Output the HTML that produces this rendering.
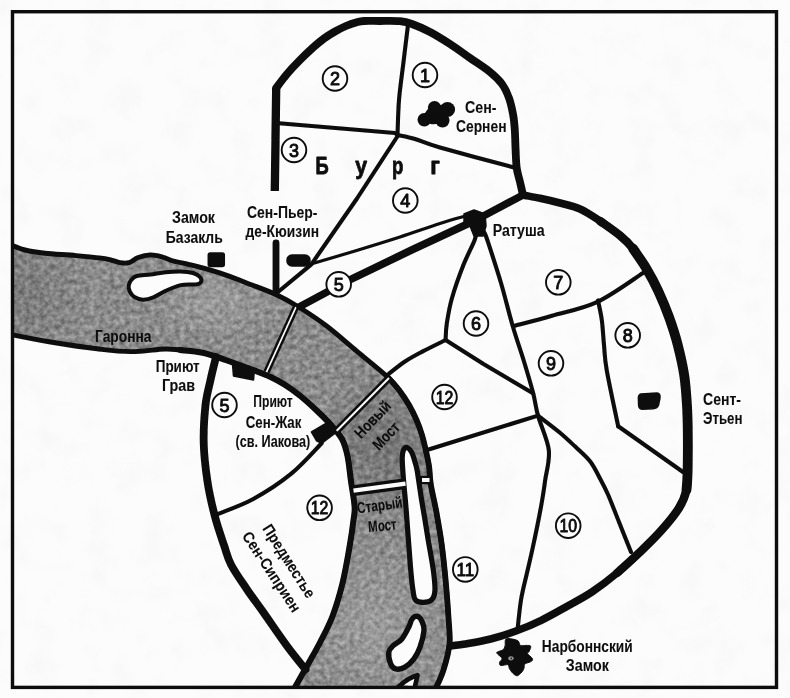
<!DOCTYPE html>
<html lang="ru">
<head>
<meta charset="utf-8">
<title>Тулуза — план города</title>
<style>
html,body{margin:0;padding:0;background:#fcfcfc;}
body{width:790px;height:698px;overflow:hidden;font-family:"Liberation Sans",sans-serif;}
svg{display:block;}
text{font-family:"Liberation Sans",sans-serif;fill:#0b0b0b;}
.lbl{font-size:15.6px;font-weight:bold;stroke:#0b0b0b;stroke-width:0.05px;stroke-linejoin:round;}
.num{font-size:18px;text-anchor:middle;stroke:#0b0b0b;stroke-width:0.9px;stroke-linejoin:round;}
.big{font-size:23.5px;font-weight:bold;stroke:#0b0b0b;stroke-width:0.8px;stroke-linejoin:round;}
.thin{fill:none;stroke:#0b0b0b;stroke-width:4.1;stroke-linecap:round;stroke-linejoin:round;}
.bank{fill:none;stroke:#0b0b0b;stroke-width:4.9;stroke-linecap:round;stroke-linejoin:round;}
.isl{fill:#fcfcfc;stroke:#0b0b0b;stroke-width:4;stroke-linejoin:round;}
.wall{fill:none;stroke:#0b0b0b;stroke-width:6.6;stroke-linecap:round;stroke-linejoin:round;}
.circ{fill:#fcfcfc;stroke:#0b0b0b;stroke-width:1.9;}
.blk{fill:#0b0b0b;stroke:#0b0b0b;stroke-width:1.5;stroke-linejoin:round;}
</style>
</head>
<body>
<svg width="790" height="698" viewBox="0 0 790 698">
<defs>
  <filter id="mottle" x="0" y="0" width="100%" height="100%" color-interpolation-filters="sRGB">
    <feTurbulence type="fractalNoise" baseFrequency="0.2" numOctaves="2" seed="11" result="n"/>
    <feColorMatrix in="n" type="matrix" values="0.42 0 0 0 0.335  0.42 0 0 0 0.335  0.42 0 0 0 0.335  0 0 0 0 1" result="g"/>
    <feComposite in="g" in2="SourceGraphic" operator="in"/>
  </filter>
  <filter id="paper" x="0" y="0" width="100%" height="100%">
    <feTurbulence type="fractalNoise" baseFrequency="0.035" numOctaves="3" seed="4" result="n"/>
    <feColorMatrix in="n" type="matrix" values="0 0 0 0 0.8  0 0 0 0 0.8  0 0 0 0 0.8  1.3 0 0 0 -0.62"/>
  </filter>
  <radialGradient id="gdark"><stop offset="0" stop-color="#000" stop-opacity="0.16"/><stop offset="1" stop-color="#000" stop-opacity="0"/></radialGradient>
  <radialGradient id="gdark2"><stop offset="0" stop-color="#000" stop-opacity="0.12"/><stop offset="1" stop-color="#000" stop-opacity="0"/></radialGradient>
  <radialGradient id="glight"><stop offset="0" stop-color="#fff" stop-opacity="0.14"/><stop offset="1" stop-color="#fff" stop-opacity="0"/></radialGradient>
  <filter id="soft"><feGaussianBlur stdDeviation="0.5"/></filter>
  <clipPath id="frameclip"><rect x="12.5" y="11.7" width="764" height="675.3"/></clipPath>
</defs>
<rect x="0" y="0" width="790" height="698" fill="#fcfcfc"/>
<rect x="0" y="0" width="790" height="698" fill="#fcfcfc" filter="url(#paper)" opacity="0.35"/>
<g filter="url(#soft)">
<g clip-path="url(#frameclip)">

<g id="river">
<path filter="url(#mottle)" fill="#8d8d8d" d="M11.0,245.0 C13.3,245.8 19.3,248.6 25.0,250.0 C30.7,251.4 36.5,252.3 45.0,253.2 C53.5,254.1 66.0,254.7 76.0,255.6 C86.0,256.5 97.7,257.4 105.0,258.6 C112.3,259.8 116.0,261.9 120.0,262.6 C124.0,263.3 126.0,263.5 129.0,262.6 C132.0,261.8 134.6,258.8 138.2,257.5 C141.8,256.2 146.3,255.0 150.4,254.9 C154.5,254.8 158.7,256.0 162.5,257.0 C166.3,258.0 168.9,259.8 173.2,261.0 C177.5,262.2 183.3,263.1 188.4,264.3 C193.5,265.5 198.5,266.7 203.6,268.1 C208.7,269.5 212.7,270.7 218.8,272.7 C224.9,274.7 234.5,278.2 240.0,280.3 C245.5,282.4 245.8,282.6 252.0,285.0 C258.2,287.4 269.2,291.3 277.0,295.0 C284.8,298.7 290.4,301.8 298.7,307.0 C307.0,312.2 316.9,318.6 326.6,326.0 C336.3,333.4 346.9,342.9 357.0,351.3 C367.1,359.7 380.3,370.2 387.3,376.6 C394.3,383.1 395.4,385.3 399.0,390.0 C402.6,394.7 406.1,400.0 409.0,405.0 C411.9,410.0 414.3,415.0 416.5,420.0 C418.7,425.0 420.5,430.2 422.0,435.0 C423.5,439.8 424.3,443.8 425.5,449.0 C426.7,454.2 428.1,460.1 429.0,466.0 C429.9,471.9 429.6,476.8 430.8,484.4 C432.0,492.0 434.5,501.6 436.3,511.6 C438.1,521.6 440.1,532.5 441.7,544.3 C443.3,556.1 444.7,570.1 445.8,582.4 C446.9,594.6 447.9,607.5 448.5,617.8 C449.1,628.1 450.3,635.3 449.5,644.0 C448.7,652.7 445.8,662.5 443.5,670.0 C441.2,677.5 436.8,685.8 435.5,689.0 L294.0,689.0  C296.3,684.9 303.6,672.2 308.0,664.3 C312.4,656.4 316.4,649.5 320.5,641.5 C324.6,633.5 328.8,625.9 332.5,616.2 C336.2,606.5 339.6,595.1 342.5,583.3 C345.4,571.5 348.0,555.8 349.8,545.3 C351.6,534.8 352.7,526.5 353.5,520.0 C354.3,513.5 355.0,513.1 354.6,506.6 C354.2,500.2 352.2,489.7 351.0,481.3 C349.8,472.9 349.0,463.1 347.5,456.0 C346.0,448.9 344.8,444.2 342.0,439.0 C339.2,433.8 335.2,429.6 330.8,424.7 C326.4,419.8 320.7,414.3 315.6,409.5 C310.5,404.7 305.5,400.1 300.4,396.0 C295.3,391.9 290.1,388.1 285.2,385.0 C280.3,381.9 277.2,380.1 271.1,377.3 C265.0,374.5 256.0,371.2 248.4,368.3 C240.8,365.4 233.2,362.6 225.6,360.0 C218.0,357.4 210.4,354.5 202.8,352.8 C195.2,351.1 186.4,350.6 180.0,350.0 C173.6,349.4 172.6,348.7 164.5,349.0 C156.4,349.3 142.2,351.6 131.6,351.6 C121.0,351.7 114.5,350.9 101.0,349.3 C87.5,347.7 65.6,344.5 50.6,342.0 C35.6,339.5 17.6,335.8 11.0,334.5 Z"/>
<clipPath id="rclip"><path d="M11.0,245.0 C13.3,245.8 19.3,248.6 25.0,250.0 C30.7,251.4 36.5,252.3 45.0,253.2 C53.5,254.1 66.0,254.7 76.0,255.6 C86.0,256.5 97.7,257.4 105.0,258.6 C112.3,259.8 116.0,261.9 120.0,262.6 C124.0,263.3 126.0,263.5 129.0,262.6 C132.0,261.8 134.6,258.8 138.2,257.5 C141.8,256.2 146.3,255.0 150.4,254.9 C154.5,254.8 158.7,256.0 162.5,257.0 C166.3,258.0 168.9,259.8 173.2,261.0 C177.5,262.2 183.3,263.1 188.4,264.3 C193.5,265.5 198.5,266.7 203.6,268.1 C208.7,269.5 212.7,270.7 218.8,272.7 C224.9,274.7 234.5,278.2 240.0,280.3 C245.5,282.4 245.8,282.6 252.0,285.0 C258.2,287.4 269.2,291.3 277.0,295.0 C284.8,298.7 290.4,301.8 298.7,307.0 C307.0,312.2 316.9,318.6 326.6,326.0 C336.3,333.4 346.9,342.9 357.0,351.3 C367.1,359.7 380.3,370.2 387.3,376.6 C394.3,383.1 395.4,385.3 399.0,390.0 C402.6,394.7 406.1,400.0 409.0,405.0 C411.9,410.0 414.3,415.0 416.5,420.0 C418.7,425.0 420.5,430.2 422.0,435.0 C423.5,439.8 424.3,443.8 425.5,449.0 C426.7,454.2 428.1,460.1 429.0,466.0 C429.9,471.9 429.6,476.8 430.8,484.4 C432.0,492.0 434.5,501.6 436.3,511.6 C438.1,521.6 440.1,532.5 441.7,544.3 C443.3,556.1 444.7,570.1 445.8,582.4 C446.9,594.6 447.9,607.5 448.5,617.8 C449.1,628.1 450.3,635.3 449.5,644.0 C448.7,652.7 445.8,662.5 443.5,670.0 C441.2,677.5 436.8,685.8 435.5,689.0 L294.0,689.0  C296.3,684.9 303.6,672.2 308.0,664.3 C312.4,656.4 316.4,649.5 320.5,641.5 C324.6,633.5 328.8,625.9 332.5,616.2 C336.2,606.5 339.6,595.1 342.5,583.3 C345.4,571.5 348.0,555.8 349.8,545.3 C351.6,534.8 352.7,526.5 353.5,520.0 C354.3,513.5 355.0,513.1 354.6,506.6 C354.2,500.2 352.2,489.7 351.0,481.3 C349.8,472.9 349.0,463.1 347.5,456.0 C346.0,448.9 344.8,444.2 342.0,439.0 C339.2,433.8 335.2,429.6 330.8,424.7 C326.4,419.8 320.7,414.3 315.6,409.5 C310.5,404.7 305.5,400.1 300.4,396.0 C295.3,391.9 290.1,388.1 285.2,385.0 C280.3,381.9 277.2,380.1 271.1,377.3 C265.0,374.5 256.0,371.2 248.4,368.3 C240.8,365.4 233.2,362.6 225.6,360.0 C218.0,357.4 210.4,354.5 202.8,352.8 C195.2,351.1 186.4,350.6 180.0,350.0 C173.6,349.4 172.6,348.7 164.5,349.0 C156.4,349.3 142.2,351.6 131.6,351.6 C121.0,351.7 114.5,350.9 101.0,349.3 C87.5,347.7 65.6,344.5 50.6,342.0 C35.6,339.5 17.6,335.8 11.0,334.5 Z"/></clipPath>
<g clip-path="url(#rclip)"><ellipse cx="385" cy="445" rx="75" ry="85" fill="url(#gdark)"/><ellipse cx="20" cy="295" rx="70" ry="80" fill="url(#gdark2)"/><ellipse cx="375" cy="625" rx="85" ry="90" fill="url(#glight)"/><ellipse cx="215" cy="300" rx="70" ry="45" fill="url(#glight)"/></g>
<path class="bank" d="M11.0,245.0 C13.3,245.8 19.3,248.6 25.0,250.0 C30.7,251.4 36.5,252.3 45.0,253.2 C53.5,254.1 66.0,254.7 76.0,255.6 C86.0,256.5 97.7,257.4 105.0,258.6 C112.3,259.8 116.0,261.9 120.0,262.6 C124.0,263.3 126.0,263.5 129.0,262.6 C132.0,261.8 134.6,258.8 138.2,257.5 C141.8,256.2 146.3,255.0 150.4,254.9 C154.5,254.8 158.7,256.0 162.5,257.0 C166.3,258.0 168.9,259.8 173.2,261.0 C177.5,262.2 183.3,263.1 188.4,264.3 C193.5,265.5 198.5,266.7 203.6,268.1 C208.7,269.5 212.7,270.7 218.8,272.7 C224.9,274.7 234.5,278.2 240.0,280.3 C245.5,282.4 245.8,282.6 252.0,285.0 C258.2,287.4 269.2,291.3 277.0,295.0 C284.8,298.7 290.4,301.8 298.7,307.0 C307.0,312.2 316.9,318.6 326.6,326.0 C336.3,333.4 346.9,342.9 357.0,351.3 C367.1,359.7 380.3,370.2 387.3,376.6 C394.3,383.1 395.4,385.3 399.0,390.0 C402.6,394.7 406.1,400.0 409.0,405.0 C411.9,410.0 414.3,415.0 416.5,420.0 C418.7,425.0 420.5,430.2 422.0,435.0 C423.5,439.8 424.3,443.8 425.5,449.0 C426.7,454.2 428.1,460.1 429.0,466.0 C429.9,471.9 429.6,476.8 430.8,484.4 C432.0,492.0 434.5,501.6 436.3,511.6 C438.1,521.6 440.1,532.5 441.7,544.3 C443.3,556.1 444.7,570.1 445.8,582.4 C446.9,594.6 447.9,607.5 448.5,617.8 C449.1,628.1 450.3,635.3 449.5,644.0 C448.7,652.7 445.8,662.5 443.5,670.0 C441.2,677.5 436.8,685.8 435.5,689.0"/>
<path class="bank" d="M11.0,334.5 C17.6,335.8 35.6,339.5 50.6,342.0 C65.6,344.5 87.5,347.7 101.0,349.3 C114.5,350.9 121.0,351.7 131.6,351.6 C142.2,351.6 156.4,349.3 164.5,349.0 C172.6,348.7 173.6,349.4 180.0,350.0 C186.4,350.6 195.2,351.1 202.8,352.8 C210.4,354.5 218.0,357.4 225.6,360.0 C233.2,362.6 240.8,365.4 248.4,368.3 C256.0,371.2 265.0,374.5 271.1,377.3 C277.2,380.1 280.3,381.9 285.2,385.0 C290.1,388.1 295.3,391.9 300.4,396.0 C305.5,400.1 310.5,404.7 315.6,409.5 C320.7,414.3 326.4,419.8 330.8,424.7 C335.2,429.6 339.2,433.8 342.0,439.0 C344.8,444.2 346.0,448.9 347.5,456.0 C349.0,463.1 349.8,472.9 351.0,481.3 C352.2,489.7 354.2,500.2 354.6,506.6 C355.0,513.1 354.3,513.5 353.5,520.0 C352.7,526.5 351.6,534.8 349.8,545.3 C348.0,555.8 345.4,571.5 342.5,583.3 C339.6,595.1 336.2,606.5 332.5,616.2 C328.8,625.9 324.6,633.5 320.5,641.5 C316.4,649.5 312.4,656.4 308.0,664.3 C303.6,672.2 296.3,684.9 294.0,689.0"/>
<path class="bank" style="stroke-width:5.8" d="M387.3,376.6 C389.2,378.8 395.4,385.3 399.0,390.0 C402.6,394.7 406.1,400.0 409.0,405.0 C411.9,410.0 414.3,415.0 416.5,420.0 C418.7,425.0 420.5,430.2 422.0,435.0 C423.5,439.8 424.3,443.8 425.5,449.0 C426.7,454.2 428.1,460.1 429.0,466.0 C429.9,471.9 429.6,476.8 430.8,484.4 C432.0,492.0 434.5,501.6 436.3,511.6 C438.1,521.6 440.1,532.5 441.7,544.3 C443.3,556.1 444.7,570.1 445.8,582.4 C446.9,594.6 447.9,607.5 448.5,617.8 C449.1,628.1 450.3,635.3 449.5,644.0 C448.7,652.7 445.8,662.5 443.5,670.0 C441.2,677.5 436.8,685.8 435.5,689.0"/>
<path class="bank" style="stroke-width:6" d="M180.0,350.0 C183.8,350.5 195.2,351.1 202.8,352.8 C210.4,354.5 218.0,357.4 225.6,360.0 C233.2,362.6 240.8,365.4 248.4,368.3 C256.0,371.2 265.0,374.5 271.1,377.3 C277.2,380.1 280.3,381.9 285.2,385.0 C290.1,388.1 295.3,391.9 300.4,396.0 C305.5,400.1 310.5,404.7 315.6,409.5 C320.7,414.3 326.4,419.8 330.8,424.7 C335.2,429.6 339.2,433.8 342.0,439.0 C344.8,444.2 346.0,448.9 347.5,456.0 C349.0,463.1 349.8,472.9 351.0,481.3 C352.2,489.7 354.2,500.2 354.6,506.6 C355.0,513.1 354.3,513.5 353.5,520.0 C352.7,526.5 351.6,534.8 349.8,545.3 C348.0,555.8 345.4,571.5 342.5,583.3 C339.6,595.1 336.2,606.5 332.5,616.2 C328.8,625.9 324.6,633.5 320.5,641.5 C316.4,649.5 312.4,656.4 308.0,664.3 C303.6,672.2 296.3,684.9 294.0,689.0"/>
<path class="isl" d="M128.7,285.6 C128.9,283.6 130.1,281.4 131.4,279.8 C132.7,278.2 133.5,276.9 136.7,276.0 C139.9,275.1 145.6,275.1 150.4,274.5 C155.2,273.9 160.5,272.7 165.6,272.2 C170.7,271.7 176.2,271.4 180.8,271.5 C185.4,271.6 189.8,272.1 193.0,273.0 C196.2,273.9 198.9,275.7 200.2,277.2 C201.5,278.7 201.6,281.0 200.9,282.2 C200.2,283.4 199.3,283.9 196.0,284.4 C192.7,284.9 185.9,284.0 180.8,285.1 C175.7,286.2 170.2,288.8 165.6,290.9 C161.0,292.9 157.2,295.9 153.4,297.4 C149.6,298.9 146.0,299.8 142.8,299.7 C139.6,299.6 136.6,298.3 134.4,297.0 C132.2,295.7 130.9,293.6 129.9,291.7 C128.9,289.8 128.4,287.6 128.7,285.6 Z"/>
<path class="isl" style="stroke-width:5.2" d="M406.5,447.3 C407.9,447.6 410.1,449.6 411.5,452.0 C412.9,454.4 414.1,458.9 415.0,462.0 C415.9,465.1 416.1,464.8 417.2,470.8 C418.2,476.8 420.0,489.8 421.3,498.0 C422.6,506.2 423.9,513.2 425.0,520.0 C426.1,526.8 426.6,530.2 428.0,538.8 C429.4,547.4 432.4,562.8 433.5,571.5 C434.6,580.2 435.2,586.2 434.9,591.0 C434.6,595.8 433.5,598.1 431.5,600.0 C429.5,601.9 425.7,602.3 423.0,602.3 C420.3,602.3 417.2,602.0 415.5,600.0 C413.8,598.0 413.9,596.2 413.0,590.5 C412.1,584.8 411.5,579.1 410.4,566.0 C409.3,552.9 407.4,525.9 406.3,511.6 C405.2,497.3 404.2,488.9 403.5,480.0 C402.8,471.1 402.2,462.9 402.2,458.0 C402.2,453.1 402.6,452.3 403.3,450.5 C404.0,448.7 405.1,447.1 406.5,447.3 Z"/>
<path class="isl" style="stroke-width:5.4" d="M414.8,616.6 C416.0,616.1 417.3,616.0 418.5,616.8 C419.7,617.6 421.1,619.2 422.0,621.5 C422.9,623.8 424.4,626.2 424.0,630.5 C423.6,634.8 421.6,642.7 419.9,647.4 C418.2,652.1 416.4,655.5 413.9,658.8 C411.4,662.1 407.9,665.4 404.9,667.1 C401.9,668.8 398.1,669.5 395.7,668.9 C393.3,668.3 391.6,666.3 390.5,663.5 C389.4,660.7 388.4,655.1 388.8,652.1 C389.2,649.1 391.0,647.9 393.1,645.7 C395.2,643.6 399.1,642.3 401.7,639.2 C404.3,636.1 407.2,630.2 408.8,627.0 C410.4,623.8 410.5,621.7 411.5,620.0 C412.5,618.3 413.6,617.1 414.8,616.6 Z"/>
<path class="isl" style="stroke-width:4.6" d="M398.5,687 C404,681.5 411,677 417.5,675.2 C416.8,679.5 415.5,683 414.5,689 Z"/>
<line x1="296" y1="307" x2="266.5" y2="372" stroke="#0b0b0b" stroke-width="6.6"/><line x1="296" y1="307" x2="266.5" y2="372" stroke="#fcfcfc" stroke-width="1.8"/>
<line x1="389" y1="378" x2="336.5" y2="431" stroke="#0b0b0b" stroke-width="7.2"/><line x1="389" y1="378" x2="336.5" y2="431" stroke="#fcfcfc" stroke-width="2.0"/>
<line x1="353.5" y1="490.6" x2="405.5" y2="483.6" stroke="#0b0b0b" stroke-width="10.8"/><line x1="353.5" y1="490.6" x2="405.5" y2="483.6" stroke="#fcfcfc" stroke-width="4.3"/>
<rect x="420" y="475.8" width="11" height="8.4" fill="#0b0b0b"/><rect x="422" y="478" width="7.5" height="4" fill="#fcfcfc"/>
</g>
<g id="thinlines">
<path class="thin" d="M276.0,123.0 L395.0,133.0 L398.0,135.5"/>
<path class="thin" d="M408.0,25.0 C407.2,31.2 405.0,49.5 403.5,62.0 C402.0,74.5 400.0,87.8 399.0,100.0 C398.0,112.2 397.8,129.2 397.5,135.0"/>
<path class="thin" d="M397.5,135.0 C400.4,135.7 407.9,136.9 415.0,139.0 C422.1,141.1 423.5,142.8 440.0,147.5 C456.5,152.2 501.7,164.2 514.0,167.5"/>
<path class="thin" d="M398.0,135.5 L357.0,198.5 L311.4,264.3 L278.0,292.0"/>
<path class="thin" d="M476.0,232.0 C475.8,233.3 476.8,234.4 474.7,240.0 C472.6,245.6 467.1,255.6 463.3,265.3 C459.5,275.0 454.8,288.3 452.0,298.0 C449.2,307.7 447.9,316.5 446.8,323.5 C445.7,330.5 445.8,337.2 445.6,340.0"/>
<path class="thin" d="M445.6,340.0 C441.8,341.9 429.6,347.8 422.8,351.4 C416.0,355.0 410.7,357.7 405.0,361.5 C399.3,365.3 391.2,371.9 388.5,374.0"/>
<path class="thin" d="M445.6,340.0 L483.5,364.0 L533.0,393.3"/>
<path class="thin" d="M484.0,232.0 C484.6,233.3 484.5,231.5 487.3,240.0 C490.1,248.5 496.8,268.7 501.0,283.0 C505.2,297.3 508.9,312.9 512.7,326.0 C516.5,339.1 520.6,350.3 524.0,361.5 C527.4,372.7 530.9,384.3 533.2,393.3 C535.5,402.3 535.4,406.2 538.0,415.6 C540.6,425.1 547.6,439.3 548.8,450.0 C550.0,460.7 546.3,471.7 545.2,480.0 C544.1,488.3 543.5,492.5 542.2,500.0 C540.9,507.5 539.2,516.6 537.5,525.0 C535.8,533.4 533.9,542.3 532.1,550.6 C530.3,558.9 528.4,566.8 526.5,575.0 C524.6,583.2 522.5,590.8 521.0,600.0 C519.5,609.2 518.1,625.0 517.5,630.0"/>
<path class="thin" d="M514.0,326.0 C520.3,324.3 538.1,319.7 552.0,315.7 C565.9,311.7 582.3,308.9 597.5,301.8 C612.7,294.7 635.4,277.8 643.0,273.0"/>
<path class="thin" d="M598.0,300.4 C598.6,303.7 600.8,312.6 601.8,320.0 C602.8,327.4 603.2,336.6 604.0,345.0 C604.8,353.4 604.4,357.1 606.8,370.6 C609.2,384.2 616.3,417.0 618.2,426.3"/>
<path class="thin" d="M618.2,426.3 L683.0,472.0"/>
<path class="thin" d="M538.0,415.6 C541.7,418.5 553.8,427.5 560.0,432.7 C566.2,437.9 570.1,441.8 575.2,446.6 C580.3,451.5 586.2,456.3 590.4,461.8 C594.6,467.3 597.5,474.0 600.5,479.5 C603.5,485.0 605.0,487.6 608.1,494.7 C611.2,501.8 615.2,512.5 619.0,522.0 C622.8,531.5 629.0,547.0 631.0,552.0"/>
<path class="thin" d="M538.0,415.6 L427.8,449.7"/>
<path class="thin" d="M321.6,443.3 C316.6,448.4 302.7,464.4 291.3,473.7 C279.9,483.0 265.6,492.3 253.3,499.0 C241.1,505.7 223.7,511.5 217.8,514.0"/>
<path class="thin" style="stroke-width:3.1" d="M311.0,264.0 C318.3,261.8 340.2,255.5 355.0,251.0 C369.8,246.5 385.8,241.6 400.0,237.0 C414.2,232.4 429.0,227.0 440.0,223.5 C451.0,220.0 461.7,217.2 466.0,216.0"/>
</g>
<g id="walls">
<path class="wall" style="stroke-width:8.3;stroke-linecap:butt" d="M274.8,191.0 L275.5,140.0 L276.2,88.0"/>
<path class="wall" style="stroke-width:7.8" d="M276.2,88.0 C278.0,85.7 283.0,78.7 287.0,74.0 C291.0,69.3 295.8,64.2 300.0,60.0 C304.2,55.8 308.0,52.1 312.0,48.5 C316.0,44.9 320.2,41.3 324.0,38.5 C327.8,35.7 331.3,33.6 335.0,31.5 C338.7,29.4 342.5,27.5 346.0,26.0 C349.5,24.5 353.0,23.3 356.0,22.5 C359.0,21.7 360.0,21.2 364.0,21.0 C368.0,20.8 374.0,21.0 380.0,21.0 C386.0,21.0 394.7,20.7 400.0,21.2 C405.3,21.7 407.0,22.2 412.0,24.0 C417.0,25.8 423.7,28.7 430.0,32.0 C436.3,35.3 443.3,39.7 450.0,44.0 C456.7,48.3 463.3,53.3 470.0,58.0 C476.7,62.7 484.7,67.7 490.0,72.0 C495.3,76.3 498.8,79.7 502.0,84.0 C505.2,88.3 507.2,93.0 509.0,98.0 C510.8,103.0 512.0,108.7 513.0,114.0 C514.0,119.3 514.4,124.0 514.8,130.0 C515.2,136.0 515.3,143.7 515.6,150.0 C515.9,156.3 516.0,162.7 516.7,168.0 C517.4,173.3 519.0,177.5 520.0,182.0 C521.0,186.5 522.5,192.8 523.0,195.0"/>
<path class="wall" style="stroke-width:7.6" d="M523.0,195.0 C525.8,195.6 533.8,197.0 540.0,198.3 C546.2,199.6 553.3,201.2 560.0,203.0 C566.7,204.8 573.3,206.0 580.0,209.0 C586.7,212.0 593.3,216.5 600.0,221.0 C606.7,225.5 614.8,231.2 620.3,235.8 C625.8,240.4 628.6,243.0 633.0,248.5 C637.4,254.0 642.2,261.5 646.5,268.7 C650.8,275.9 654.8,283.4 658.5,291.5 C662.2,299.6 665.8,308.1 669.0,317.0 C672.2,325.9 675.2,334.9 677.7,344.7 C680.2,354.5 682.8,365.5 684.3,375.7 C685.8,385.9 686.4,396.3 687.0,406.0 C687.6,415.7 687.7,423.0 687.8,434.0 C687.9,445.0 687.8,462.7 687.6,472.0 C687.4,481.3 687.9,484.0 686.5,490.0 C685.1,496.0 683.2,501.2 679.0,508.0 C674.8,514.8 667.5,523.5 661.0,530.8 C654.5,538.1 647.3,545.0 640.0,552.0 C632.7,559.0 625.2,566.2 617.2,572.9 C609.2,579.6 600.3,586.4 591.9,592.0 C583.5,597.6 575.0,601.9 566.6,606.6 C558.2,611.3 549.7,616.2 541.3,620.3 C532.9,624.4 524.5,627.9 516.0,631.0 C507.6,634.1 499.1,636.8 490.6,639.0 C482.2,641.2 471.8,642.9 465.3,644.0 C458.8,645.1 453.7,645.5 451.4,645.8"/>
<path class="wall" style="stroke-width:8.4" d="M600.0,221.0 C603.4,223.5 614.8,231.2 620.3,235.8 C625.8,240.4 628.6,243.0 633.0,248.5 C637.4,254.0 642.2,261.5 646.5,268.7 C650.8,275.9 654.8,283.4 658.5,291.5 C662.2,299.6 665.8,308.1 669.0,317.0 C672.2,325.9 675.2,334.9 677.7,344.7 C680.2,354.5 682.8,365.5 684.3,375.7 C685.8,385.9 686.4,396.3 687.0,406.0 C687.6,415.7 687.7,423.0 687.8,434.0 C687.9,445.0 687.8,462.7 687.6,472.0 C687.4,481.3 687.9,484.0 686.5,490.0 C685.1,496.0 683.2,501.2 679.0,508.0 C674.8,514.8 667.5,523.5 661.0,530.8 C654.5,538.1 647.3,545.0 640.0,552.0 C632.7,559.0 621.0,569.4 617.2,572.9"/>
<path class="wall" style="stroke-width:9.8" d="M633.0,248.5 C635.2,251.9 642.2,261.5 646.5,268.7 C650.8,275.9 654.8,283.4 658.5,291.5 C662.2,299.6 665.8,308.1 669.0,317.0 C672.2,325.9 675.2,334.9 677.7,344.7 C680.2,354.5 682.8,365.5 684.3,375.7 C685.8,385.9 686.4,396.3 687.0,406.0 C687.6,415.7 687.7,423.0 687.8,434.0 C687.9,445.0 687.8,462.7 687.6,472.0 C687.4,481.3 686.7,487.0 686.5,490.0"/>
<path class="wall" style="stroke-width:7.5" d="M523.0,195.0 L475.0,220.5 L411.6,250.0 L350.8,279.3 L300.0,306.5"/>
<path class="wall" style="stroke-width:6.8" d="M276.0,243.0 L276.0,292.0"/>
<path class="wall" style="stroke-width:7.8" d="M216.0,357.0 C215.1,360.8 212.2,372.0 210.5,380.0 C208.8,388.0 206.6,394.5 205.5,405.0 C204.4,415.5 203.4,430.3 203.7,443.0 C204.0,455.7 205.6,468.8 207.4,481.0 C209.2,493.2 212.0,505.2 214.8,516.0 C217.6,526.8 221.5,537.7 224.2,545.8 C226.9,553.9 227.4,557.6 231.1,564.7 C234.8,571.9 241.1,580.7 246.5,588.7 C251.9,596.7 256.9,603.2 263.7,612.8 C270.4,622.3 280.0,636.5 287.0,646.0 C294.0,655.5 302.4,665.6 305.5,669.5"/>
</g>
<g id="blobs">
  <g fill="#0b0b0b"><circle cx="424.3" cy="119.8" r="6.8"/><circle cx="434.5" cy="107.6" r="6.6"/><circle cx="447.5" cy="109.5" r="7.6"/><circle cx="442.5" cy="120.5" r="7"/><ellipse cx="436" cy="114.5" rx="12.5" ry="9" transform="rotate(-25 436 114.5)"/></g>
  <rect class="blk" x="287" y="255" width="23" height="11" rx="5"/>
  <rect class="blk" x="208.3" y="253" width="16" height="13.5" rx="2"/>
  <path class="blk" d="M464,214 L474,210 L485,214 L486,226 L483,236 L474,236 L470,226 L464,222 Z"/>
  <path class="blk" d="M232.5,364 L254.5,368.5 L253.5,380 L233.5,376 Z"/>
  <path class="blk" d="M311.5,432 L326.7,423 L336.8,432 L321.6,443.3 L316.6,440.8 Z"/>
  <path class="blk" d="M641,394 L657,393 Q660.5,393.5 660,398 L658.5,405 Q657.5,408.3 653,408.8 L642,409.3 Q638.8,408.8 638.6,405 L638.4,397.5 Q638.6,394.6 641,394 Z"/>
  <path class="blk" style="stroke-width:1" d="M505.9,639.1 C507.1,638.0 510.6,638.8 512.6,639.1 C514.6,639.4 516.8,640.0 518.1,641.0 C519.4,642.0 519.2,644.7 520.5,645.4 C521.8,646.1 524.3,645.3 526.0,645.4 C527.7,645.5 530.2,645.2 530.7,646.2 C531.2,647.2 529.7,650.0 529.2,651.3 C528.7,652.5 527.1,652.5 527.6,653.7 C528.1,654.9 531.6,657.1 532.3,658.4 C532.9,659.6 532.4,660.4 531.5,661.2 C530.6,662.0 528.0,662.5 526.8,663.1 C525.6,663.7 524.9,663.7 524.4,664.7 C523.9,665.8 524.4,667.8 523.6,669.4 C522.8,671.0 520.9,673.2 519.7,674.2 C518.5,675.2 517.7,675.9 516.5,675.7 C515.3,675.5 513.8,674.2 512.6,673.0 C511.4,671.8 510.2,670.0 509.4,668.6 C508.6,667.2 509.3,665.2 507.9,664.7 C506.5,664.2 502.2,665.9 500.8,665.5 C499.4,665.1 499.4,663.5 499.6,662.3 C499.8,661.1 502.3,659.8 502.0,658.4 C501.7,657.0 498.4,655.1 497.6,654.1 C496.8,653.1 496.3,652.8 497.2,652.1 C498.1,651.4 501.8,650.8 503.1,649.7 C504.4,648.7 504.6,647.6 505.1,645.8 C505.6,644.0 504.6,640.2 505.9,639.1 Z"/>
  <ellipse cx="511" cy="658.3" rx="2.7" ry="2.1" fill="#9a9a9a"/><ellipse cx="511.3" cy="658.4" rx="1.0" ry="0.9" fill="#222"/>
</g>
<g id="circles">
<circle class="circ" cx="425" cy="75" r="12.3"/>
<text class="num" x="425" y="81.5">1</text>
<circle class="circ" cx="335" cy="78.5" r="12.3"/>
<text class="num" x="335" y="85.0">2</text>
<circle class="circ" cx="294" cy="150" r="12.3"/>
<text class="num" x="294" y="156.5">3</text>
<circle class="circ" cx="405.3" cy="200.5" r="12.3"/>
<text class="num" x="405.3" y="207.0">4</text>
<circle class="circ" cx="338.7" cy="284.3" r="12.3"/>
<text class="num" x="338.7" y="290.8">5</text>
<circle class="circ" cx="224.5" cy="405" r="12.3"/>
<text class="num" x="224.5" y="411.5">5</text>
<circle class="circ" cx="476" cy="323.5" r="12.3"/>
<text class="num" x="476" y="330.0">6</text>
<circle class="circ" cx="558.3" cy="282.3" r="12.3"/>
<text class="num" x="558.3" y="288.8">7</text>
<circle class="circ" cx="627.7" cy="335.3" r="12.3"/>
<text class="num" x="627.7" y="341.8">8</text>
<circle class="circ" cx="551" cy="363.3" r="12.3"/>
<text class="num" x="551" y="369.8">9</text>
<circle class="circ" cx="568.2" cy="525.7" r="12.3"/>
<text class="num" x="568.2" y="532.2" textLength="17.6" lengthAdjust="spacingAndGlyphs">10</text>
<circle class="circ" cx="465.3" cy="569.4" r="12.3"/>
<text class="num" x="465.3" y="575.9" textLength="17.6" lengthAdjust="spacingAndGlyphs">11</text>
<circle class="circ" cx="444.5" cy="397" r="12.3"/>
<text class="num" x="444.5" y="403.5" textLength="17.6" lengthAdjust="spacingAndGlyphs">12</text>
<circle class="circ" cx="319.6" cy="507.8" r="12.3"/>
<text class="num" x="319.6" y="514.3" textLength="17.6" lengthAdjust="spacingAndGlyphs">12</text>
</g>
<g id="labels">
<text class="lbl" x="465" y="112.6" textLength="31.5" lengthAdjust="spacingAndGlyphs">Сен-</text>
<text class="lbl" x="456" y="131.6" textLength="50.5" lengthAdjust="spacingAndGlyphs">Сернен</text>
<text class="lbl" x="247" y="217.5" textLength="70.5" lengthAdjust="spacingAndGlyphs">Сен-Пьер-</text>
<text class="lbl" x="245.5" y="237" textLength="73.5" lengthAdjust="spacingAndGlyphs">де-Кюизин</text>
<text class="lbl" x="172" y="223" textLength="43" lengthAdjust="spacingAndGlyphs">Замок</text>
<text class="lbl" x="165.8" y="243" textLength="57" lengthAdjust="spacingAndGlyphs">Базакль</text>
<text class="lbl" x="492.7" y="235.5" textLength="52" lengthAdjust="spacingAndGlyphs">Ратуша</text>
<text class="lbl" x="95" y="341.5" textLength="56.5" lengthAdjust="spacingAndGlyphs">Гаронна</text>
<text class="lbl" x="155.7" y="372" textLength="44" lengthAdjust="spacingAndGlyphs">Приют</text>
<text class="lbl" x="162" y="391" textLength="33" lengthAdjust="spacingAndGlyphs">Грав</text>
<text class="lbl" x="253.3" y="407.3" textLength="39.5" lengthAdjust="spacingAndGlyphs">Приют</text>
<text class="lbl" x="245.7" y="428" textLength="55.7" lengthAdjust="spacingAndGlyphs">Сен-Жак</text>
<text class="lbl" x="235.6" y="447" textLength="74.7" lengthAdjust="spacingAndGlyphs">(св. Иакова)</text>
<text class="lbl" x="703" y="404.8" textLength="38" lengthAdjust="spacingAndGlyphs">Сент-</text>
<text class="lbl" x="703" y="423.8" textLength="39.5" lengthAdjust="spacingAndGlyphs">Этьен</text>
<text class="lbl" x="541.8" y="651.6" textLength="91" lengthAdjust="spacingAndGlyphs">Нарбоннский</text>
<text class="lbl" x="565.8" y="670.6" textLength="43" lengthAdjust="spacingAndGlyphs">Замок</text>
<text class="lbl" transform="translate(361,439.5) rotate(-46.5)" textLength="45" lengthAdjust="spacingAndGlyphs">Новый</text>
<text class="lbl" transform="translate(379,451) rotate(-46.5)" textLength="31.5" lengthAdjust="spacingAndGlyphs">Мост</text>
<text class="lbl" transform="translate(357.8,513.6) rotate(-8)" textLength="45.5" lengthAdjust="spacingAndGlyphs">Старый</text>
<text class="lbl" transform="translate(368.6,532) rotate(-5)" textLength="28.5" lengthAdjust="spacingAndGlyphs">Мост</text>
<text class="lbl" transform="translate(262,528.5) rotate(57.5)" textLength="84" lengthAdjust="spacingAndGlyphs">Предместье</text>
<text class="lbl" transform="translate(241.5,536) rotate(56.5)" textLength="93" lengthAdjust="spacingAndGlyphs">Сен-Сиприен</text>
<text class="big" x="315.6" y="173.6" textLength="13.2" lengthAdjust="spacingAndGlyphs">Б</text>
<text class="big" x="355.3" y="173.6" textLength="11.8" lengthAdjust="spacingAndGlyphs">у</text>
<text class="big" x="392" y="173.6" textLength="11.4" lengthAdjust="spacingAndGlyphs">р</text>
<text class="big" x="430.3" y="173.6" textLength="9.6" lengthAdjust="spacingAndGlyphs">г</text>
</g>
</g>
<rect x="12.5" y="11.7" width="764" height="675.7" fill="none" stroke="#0b0b0b" stroke-width="3.4"/>
</g>
</svg>
</body>
</html>
